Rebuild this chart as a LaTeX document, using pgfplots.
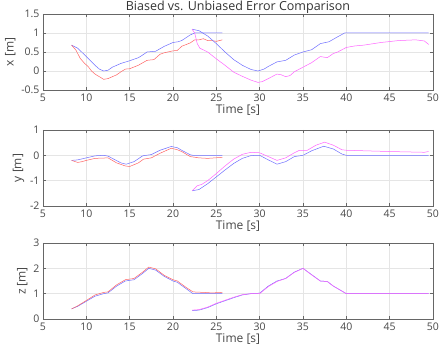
\documentclass[border=0pt]{standalone}
\usepackage{pgfplots}
\pgfplotsset{compat=1.18}
\usepackage{fontspec}
\setmainfont{Open Sans}
\definecolor{myblue}{RGB}{110,110,255}
\definecolor{myred}{RGB}{255,100,100}
\definecolor{mymag}{RGB}{255,100,255}
\pgfplotsset{
  myax/.style={
    scale only axis, width=390pt, height=76pt,
    xmin=5, xmax=50, xtick={5,10,...,50},
    tick align=inside, tick pos=both,
    major tick length=3pt,
    grid=major, grid style={gray!20, line width=0.4pt},
    axis line style={gray!80!black, line width=0.4pt},
    tick style={gray!80!black, line width=0.4pt},
    every tick label/.append style={font=\fontsize{10.5}{11}\selectfont, text=black!72},
    label style={font=\fontsize{12}{13}\selectfont, text=black!72},
    /pgf/number format/assume math mode=true,
    xlabel={Time [s]},
    xlabel style={yshift=3pt},
    ylabel style={yshift=-1pt},
    every axis plot/.append style={line width=0.5pt, no marks},
    clip=true,
  }
}
\begin{document}
\begin{tikzpicture}
\path[use as bounding box] (-43pt,-257pt) rectangle (397pt,90pt);
% x panel
\begin{axis}[myax, at={(0pt,0pt)}, anchor=south west,
  ymin=-0.5, ymax=1.5, ytick={-0.5,0,0.5,1,1.5},
  yticklabels={-0.5,0,0.5,1,1.5},
  ylabel={x [m]},
  title={Biased vs. Unbiased Error Comparison},
  title style={font=\fontsize{12.5}{13}\selectfont, text=black!80, yshift=-9pt}]
\addplot[myblue] coordinates {(8.3,0.68)(9,0.6)(10,0.38)(11,0.15)(11.5,0.05)(12,0)(12.5,0.02)(13,0.1)(14,0.2)(15,0.27)(16,0.35)(16.5,0.42)(17,0.5)(18,0.52)(19,0.65)(20,0.75)(20.6,0.77)(21,0.8)(22,0.95)(22.5,1.0)(25.7,1.0)};
\addplot[myred] coordinates {(8.3,0.68)(8.8,0.55)(9.3,0.33)(9.8,0.2)(10.2,0.12)(10.6,0)(11,-0.08)(11.5,-0.15)(12,-0.22)(12.5,-0.2)(13,-0.15)(13.5,-0.1)(14,-0.02)(14.5,0.05)(15,0.06)(16,0.15)(17,0.28)(17.8,0.3)(18.5,0.44)(19,0.48)(20,0.53)(20.5,0.54)(21,0.65)(22,0.74)(22.5,0.82)(23,0.82)(23.5,0.85)(24,0.8)(24.5,0.8)(25,0.78)(25.7,0.82)};
\addplot[myblue] coordinates {(22.2,1.1)(23,1.06)(24,0.92)(25,0.72)(26,0.5)(27,0.3)(28,0.15)(29,0.04)(29.8,0)(30.5,0.05)(31,0.12)(32,0.24)(33,0.28)(34,0.42)(35,0.5)(36,0.56)(37,0.72)(38,0.77)(39,0.9)(39.8,1.0)(49.5,1.0)};
\addplot[mymag] coordinates {(22.2,1.1)(22.5,1.0)(22.8,0.72)(23.1,0.6)(24,0.5)(25,0.32)(26,0.15)(27,-0.03)(28,-0.14)(29,-0.24)(29.8,-0.3)(30.3,-0.28)(31,-0.2)(32,-0.08)(32.5,-0.1)(33,-0.15)(33.5,-0.12)(34,-0.02)(35,0.1)(36,0.22)(37,0.38)(37.8,0.35)(38.5,0.46)(39,0.5)(40,0.62)(41,0.66)(42,0.68)(44,0.75)(46,0.8)(48,0.82)(49,0.79)(49.5,0.7)};
\end{axis}
% y panel
\begin{axis}[myax, at={(0pt,-116pt)}, anchor=south west,
  ymin=-2, ymax=1, ytick={-2,-1,0,1},
  yticklabels={-2,-1,0,1},
  ylabel={y [m]}]
\addplot[myblue] coordinates {(8.3,-0.2)(9,-0.18)(10,-0.1)(11,-0.02)(12,0)(12.5,-0.03)(13,-0.12)(14,-0.3)(14.6,-0.35)(15.5,-0.25)(16.5,-0.02)(17.5,0.03)(18.5,0.2)(19.8,0.35)(20.5,0.3)(21,0.2)(22,0.02)(22.3,0)(25.7,0)};
\addplot[myred] coordinates {(8.3,-0.2)(9,-0.28)(9.5,-0.25)(10,-0.2)(11,-0.12)(12.5,-0.1)(13.5,-0.3)(14.5,-0.42)(15,-0.44)(16,-0.3)(16.6,-0.15)(17.5,-0.1)(18.5,0.08)(19.8,0.28)(20.5,0.22)(21,0.15)(22,-0.05)(23,-0.1)(24,-0.12)(25.7,-0.08)};
\addplot[myblue] coordinates {(22.2,-1.4)(23,-1.35)(24,-1.12)(25,-0.85)(26,-0.58)(27,-0.32)(28,-0.12)(29,-0.01)(30,0)(31,-0.18)(32,-0.35)(33,-0.25)(34,-0.05)(35,0)(36,0.18)(37.4,0.36)(38.5,0.25)(39.5,0.05)(40,0)(49.5,0)};
\addplot[mymag] coordinates {(22.2,-1.4)(22.8,-1.2)(23.3,-1.15)(24,-1.0)(25,-0.72)(26,-0.42)(27,-0.15)(28,0.04)(29,0.12)(30,0.1)(31,-0.05)(32,-0.2)(33,-0.1)(34,0.1)(34.6,0.2)(35.5,0.2)(36.5,0.4)(37.5,0.52)(38.5,0.4)(39.5,0.22)(40,0.2)(42,0.18)(45,0.15)(49,0.12)(49.5,0.15)};
\end{axis}
% z panel
\begin{axis}[myax, at={(0pt,-229pt)}, anchor=south west,
  ymin=0, ymax=3, ytick={0,1,2,3},
  ylabel={z [m]}]
\addplot[myblue] coordinates {(8.3,0.4)(9,0.5)(10,0.7)(11,0.9)(12,1.0)(12.5,1.03)(13.5,1.3)(14.5,1.5)(15.5,1.55)(16.5,1.8)(17.2,2.0)(18,1.93)(19,1.68)(20,1.5)(20.5,1.45)(21.5,1.2)(22.3,1.0)(25.7,1.0)};
\addplot[myred] coordinates {(8.3,0.4)(9,0.52)(10,0.73)(11,0.95)(12,1.05)(12.5,1.07)(13.5,1.35)(14.5,1.55)(15.5,1.6)(16.5,1.85)(17.2,2.05)(18,1.98)(19,1.72)(20,1.55)(20.5,1.5)(21.5,1.25)(22.3,1.07)(23.5,1.05)(24.5,1.03)(25.7,1.05)};
\addplot[myblue] coordinates {(22.2,0.33)(23,0.35)(24,0.45)(25,0.6)(26,0.72)(27,0.84)(28,0.95)(29,1.0)(30,1.02)(31,1.3)(32,1.5)(33,1.6)(34,1.85)(35,2.0)(36,1.75)(37,1.5)(37.8,1.48)(38.5,1.3)(40,1.0)(49.5,1.0)};
\addplot[mymag] coordinates {(22.2,0.35)(23,0.37)(24,0.47)(25,0.62)(26,0.74)(27,0.86)(28,0.96)(29,1.0)(30,1.0)(31,1.28)(32,1.48)(33,1.6)(34,1.84)(35,2.0)(36,1.74)(37,1.5)(37.8,1.48)(38.5,1.3)(40,1.0)(49.5,1.0)};
\end{axis}
\end{tikzpicture}
\end{document}
